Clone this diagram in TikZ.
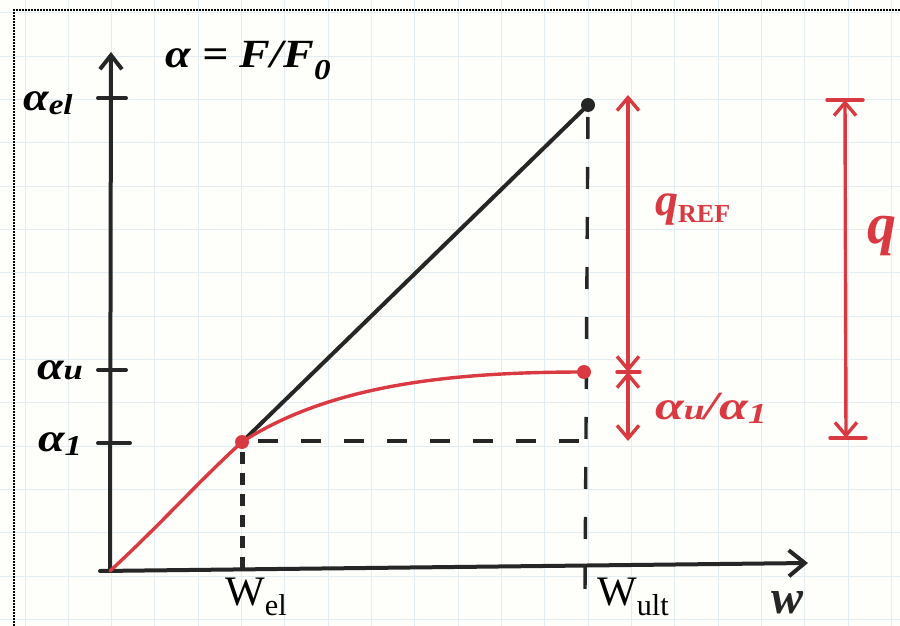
\documentclass[tikz,border=0pt]{standalone}
\usepackage{fontspec}
\setmainfont{Liberation Serif}
\usetikzlibrary{arrows.meta}
\definecolor{ink}{HTML}{262626}
\definecolor{redink}{HTML}{D93A42}
\definecolor{gridc}{HTML}{E3ECF0}
\definecolor{paper}{HTML}{FEFEFB}
\newcommand{\lowsub}[2][-0.3em]{\raisebox{#1}{\scalebox{0.72}{#2}}}
\begin{document}
\begin{tikzpicture}[x=1pt,y=-1pt,
  inkline/.style={draw=ink,line width=4pt,line cap=round,line join=round},
  redline/.style={draw=redink,line width=3.4pt,line cap=round,line join=round},
  inkdash/.style={draw=ink,line width=3.4pt,line cap=butt},
  hand/.style={inner sep=0pt,font=\fontsize{40}{44}\selectfont\itshape\bfseries},
  typed/.style={inner sep=0pt,font=\fontsize{42}{46}\selectfont},
  dimarrow/.style={redline,{Straight Barb[length=13pt,width=22pt]}-{Straight Barb[length=13pt,width=22pt]}},
  dot/.style={circle,inner sep=0pt,minimum size=14pt}
]
\useasboundingbox (0,0) rectangle (900,626);
% paper and grid
\fill[paper] (0,0) rectangle (900,626);
\foreach \gx in {25,68.33,...,900} \draw[gridc,line width=1pt] (\gx,0) -- (\gx,626);
\foreach \gy in {13,56.33,...,626} \draw[gridc,line width=1pt] (0,\gy) -- (900,\gy);
\draw[black,line width=1.6pt,dash pattern=on 1.6pt off 1.4pt] (14,626) -- (14,10) -- (900,10);

% coordinates
\coordinate (O) at (110,571);
\coordinate (Xstart) at (100,571);
\coordinate (Ytip) at (111,52);
\coordinate (Xtip) at (808,563);
\coordinate (P1) at (242,442);
\coordinate (Pel) at (588,105);
\coordinate (Pu) at (584,372);
\coordinate (Ult) at (585,592);
\coordinate (Wel) at (242,577);
\coordinate (Hend) at (585,441);

% axes
\draw[inkline,-{Straight Barb[length=14pt,width=22pt]}] (O) -- (Ytip);
\draw[inkline,-{Straight Barb[length=16pt,width=26pt]}] (Xstart) -- (Xtip);
\draw[inkline] (98,98) -- (126,98);
\draw[inkline] (98,370) -- (126,370);
\draw[inkline] (98,443) -- (130,443);

% dashed guides
\draw[inkdash,dash pattern=on 22pt off 28pt,dash phase=-12pt] (Pel) -- (Ult);
\draw[inkdash,dash pattern=on 20pt off 23pt] (258,441) -- (Hend);
\draw[inkdash,line width=5pt,dash pattern=on 12pt off 9pt] (242,452) -- (Wel);

% elastic line and curve
\draw[inkline] (P1) -- (Pel);
\draw[redline] (O) .. controls (160,525) and (200,480) .. (P1)
  .. controls (330,385) and (450,372) .. (Pu);
\node[dot,fill=ink] (del) at (Pel) {};
\node[dot,fill=redink] (du) at (Pu) {};
\node[dot,fill=redink] (d1) at (P1) {};

% red dimension arrows
\coordinate (A1t) at (628,95);
\coordinate (A1m) at (628,372);
\coordinate (A1b) at (628,441);
\draw[dimarrow] (A1m) -- (A1t);
\draw[dimarrow] (A1m) -- (A1b);
\draw[redline] (617,372) -- (640,372);
\coordinate (A2t) at (845,100);
\coordinate (A2b) at (846,438);
\draw[dimarrow] (A2t) -- (A2b);
\draw[redline] (827,100) -- (863,100);
\draw[redline] (830,438) -- (866,438);

% labels
\node[hand] (adef) at (248,60) {\scalebox{1.15}[1]{α = F/F\lowsub{0}}};
\node[hand] (ael) at (48,103) {\scalebox{1.15}[1]{α\lowsub[-0.1em]{el}}};
\node[hand] (au) at (60,370) {\scalebox{1.2}[1]{α\lowsub[0em]{u}}};
\node[hand] (a1) at (60,444) {\scalebox{1.2}[1]{α\lowsub[-0.1em]{1}}};
\node[typed,anchor=west] (wel) at (225,597) {W\lowsub[-0.24em]{el}};
\node[typed,anchor=west] (wult) at (597,597) {W\lowsub[-0.24em]{ult}};
\node[hand,font=\fontsize{48}{50}\selectfont\itshape\bfseries,text=ink] (w) at (787,603) {w};
\node[hand,text=redink,anchor=west,font=\fontsize{46}{50}\selectfont\itshape\bfseries] (qref) at (655,210) {q\raisebox{-7pt}{\fontsize{26}{28}\selectfont\upshape\bfseries REF}};
\node[hand,text=redink,font=\fontsize{58}{62}\selectfont\itshape\bfseries,anchor=east] (q) at (897,236) {q};
\node[hand,text=redink,anchor=west] (ratio) at (655,408) {\scalebox{1.3}[1]{α\lowsub[0em]{u}/α\lowsub[-0.1em]{1}}};
\end{tikzpicture}
\end{document}
